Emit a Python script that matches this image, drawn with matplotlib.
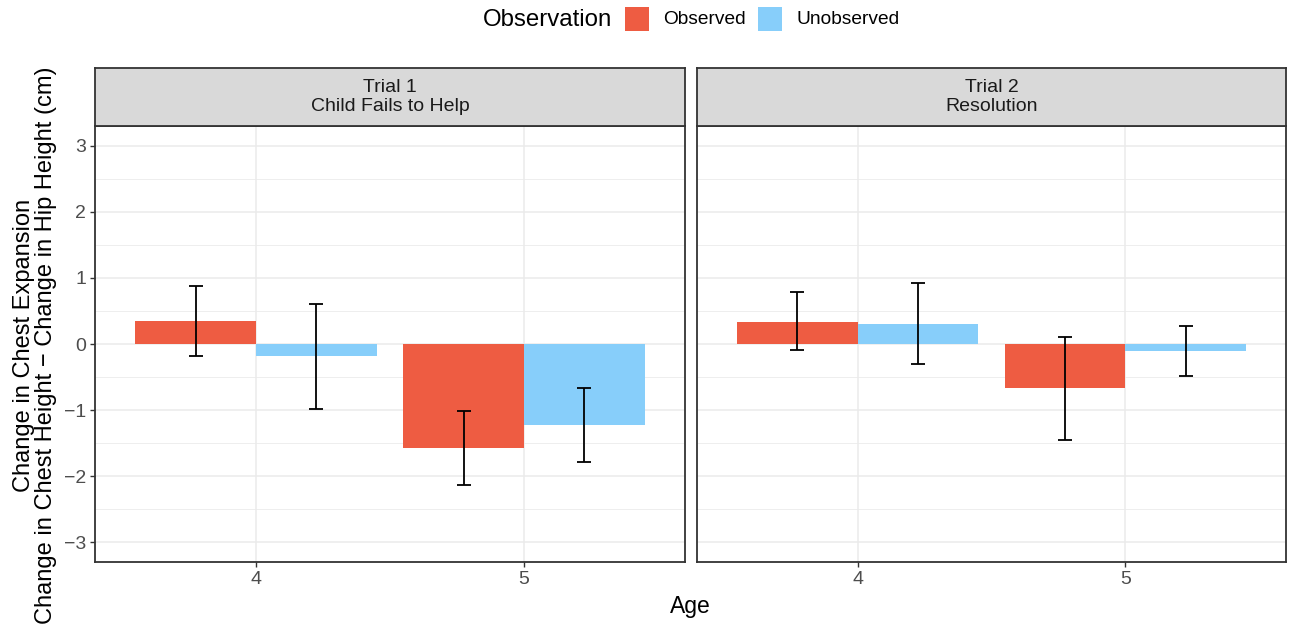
import matplotlib
matplotlib.use("Agg")
import matplotlib.pyplot as plt
from matplotlib.patches import Rectangle
import numpy as np

plt.rcParams['font.family'] = ['Liberation Sans', 'DejaVu Sans']

# ---- data ----
ages = [4, 5]
groups = ["Observed", "Unobserved"]
facets = ["Trial 1\nChild Fails to Help", "Trial 2\nResolution"]

t1_obs_mean = [0.35, -1.58]
t1_obs_lo = [-0.18, -2.13]
t1_obs_hi = [0.88, -1.02]
t1_unobs_mean = [-0.18, -1.22]
t1_unobs_lo = [-0.98, -1.78]
t1_unobs_hi = [0.61, -0.67]

t2_obs_mean = [0.34, -0.66]
t2_obs_lo = [-0.09, -1.45]
t2_obs_hi = [0.78, 0.11]
t2_unobs_mean = [0.31, -0.11]
t2_unobs_lo = [-0.30, -0.49]
t2_unobs_hi = [0.92, 0.28]

colors = {"Observed": "#EE5C42", "Unobserved": "#87CEFA"}

panels = [
    {"Observed": (t1_obs_mean, t1_obs_lo, t1_obs_hi),
     "Unobserved": (t1_unobs_mean, t1_unobs_lo, t1_unobs_hi)},
    {"Observed": (t2_obs_mean, t2_obs_lo, t2_obs_hi),
     "Unobserved": (t2_unobs_mean, t2_unobs_lo, t2_unobs_hi)},
]

W, H = 1290, 624
fig = plt.figure(figsize=(W / 100, H / 100), dpi=100)

def fx(px):
    return px / W

def fy(py):
    return 1 - py / H

panel_x = [(95, 685), (697, 1286)]
top, bottom, strip_top = 126, 562, 68
grid_col = "#EBEBEB"
border_col = "#333333"
bw = 0.9
dodge = bw / 2

for i, (x0, x1) in enumerate(panel_x):
    ax = fig.add_axes([fx(x0), fy(bottom), fx(x1 - x0), (bottom - top) / H])
    ax.set_xlim(3.4, 5.6)
    ax.set_ylim(-3.3, 3.3)
    ax.set_axisbelow(True)
    # grid
    for yv in np.arange(-3, 3.01, 1):
        ax.axhline(yv, color=grid_col, lw=1.1, zorder=0)
    for yv in np.arange(-2.5, 3.0, 1):
        ax.axhline(yv, color=grid_col, lw=0.6, zorder=0)
    for xv in ages:
        ax.axvline(xv, color=grid_col, lw=1.1, zorder=0)
    data = panels[i]
    for j, g in enumerate(groups):
        mean, lo, hi = data[g]
        xs = np.array(ages) + (j - 0.5) * dodge
        ax.bar(xs, mean, width=dodge, color=colors[g], edgecolor='none', zorder=2)
        mean_a = np.array(mean)
        yerr = np.vstack([mean_a - np.array(lo), np.array(hi) - mean_a])
        ax.errorbar(xs, mean_a, yerr=yerr, fmt='none', ecolor='black',
                    elinewidth=1.3, capsize=4.7, capthick=1.3, zorder=3)
    ax.set_xticks(ages)
    ax.set_xticklabels([str(a) for a in ages])
    ax.set_yticks(np.arange(-3, 4, 1))
    if i == 0:
        ax.set_yticklabels(["\u22123", "\u22122", "\u22121", "0", "1", "2", "3"])
        ax.tick_params(axis='y', length=3.5, width=1.0, color=border_col,
                       labelsize=14, labelcolor="#4D4D4D", pad=3)
    else:
        ax.tick_params(axis='y', left=False, labelleft=False)
    ax.tick_params(axis='x', length=3.5, width=1.0, color=border_col,
                   labelsize=14, labelcolor="#4D4D4D", pad=3)
    for sp in ax.spines.values():
        sp.set_color(border_col)
        sp.set_linewidth(1.3)
    # strip
    sax = fig.add_axes([fx(x0), fy(top), fx(x1 - x0), (top - strip_top) / H])
    sax.set_facecolor("#D9D9D9")
    sax.set_xticks([])
    sax.set_yticks([])
    for sp in sax.spines.values():
        sp.set_color(border_col)
        sp.set_linewidth(1.3)
    sax.text(0.5, 0.5, facets[i], ha='center', va='center', fontsize=14,
             color="#1A1A1A", transform=sax.transAxes, linespacing=1.15)

# axis titles
fig.text(fx(690.5), fy(606), "Age", ha='center', va='center', fontsize=16.5, color='black')
fig.text(fx(35), fy(345), "Change in Chest Expansion\nChange in Chest Height \u2212 Change in Hip Height (cm)",
         rotation=90, ha='center', va='center', fontsize=17, color='black', linespacing=1.05)

# legend
fig.text(fx(483), fy(20), "Observation", ha='left', va='center', fontsize=17.3, color='black')
key_pos = [(625, 663), (758, 796)]
for g, (kx, tx) in zip(groups, key_pos):
    fig.patches.append(Rectangle((fx(kx), fy(31)), fx(24), 24 / H, transform=fig.transFigure,
                                 facecolor=colors[g], edgecolor='none'))
    fig.text(fx(tx), fy(20), g, ha='left', va='center', fontsize=13.8, color='black')

fig.savefig("out.png", dpi=100, facecolor='white')
